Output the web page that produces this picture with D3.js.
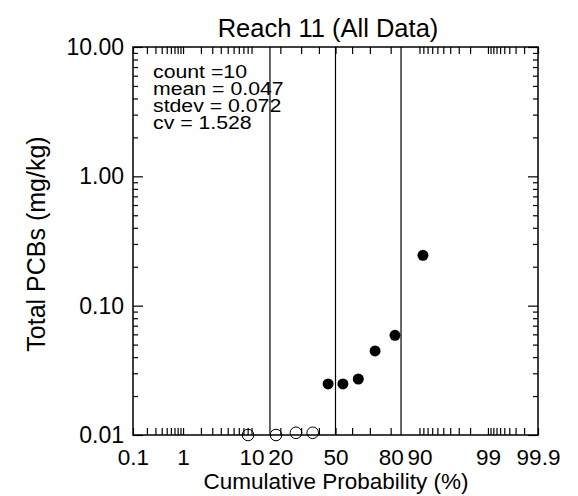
<!DOCTYPE html>
<html><head><meta charset="utf-8">
<script src="https://cdn.jsdelivr.net/npm/d3@7"></script>
<style>
body{margin:0;background:#fff;}
svg{display:block;}
text{font-family:"Liberation Sans",Arial,Helvetica,sans-serif;fill:#000;}
</style></head>
<body>
<svg id="c" width="578" height="496"></svg>
<script>
// ---- data ----
const cumProb = [9.1, 18.2, 27.3, 36.4, 45.5, 54.5, 63.6, 72.7, 81.8, 90.9];
const values  = [0.0100, 0.0100, 0.0104, 0.0104, 0.0248, 0.0248, 0.0271, 0.0447, 0.0590, 0.245];
const detected = [false, false, false, false, true, true, true, true, true, true];
const xTickLabels = [0.1, 1, 10, 20, 50, 80, 90, 99, 99.9];
const xMinorTicks = [0.1,0.2,0.3,0.4,0.5,0.6,0.7,0.8,0.9,1,2,3,4,5,6,7,8,9,10,20,30,40,50,60,70,80,90,91,92,93,94,95,96,97,98,99,99.1,99.2,99.3,99.4,99.5,99.6,99.7,99.8,99.9];
const yMajor = [0.01, 0.1, 1, 10];
const yLabels = ["0.01", "0.10", "1.00", "10.00"];
const sdLines = [-1, 0, 1];
const statsLines = ["count =10", "mean = 0.047", "stdev = 0.072", "cv = 1.528"];
const title = "Reach 11 (All Data)";
const xTitle = "Cumulative Probability (%)";
const yTitle = "Total PCBs (mg/kg)";

// inverse standard normal CDF (Acklam)
function probit(p){
  const a=[-3.969683028665376e+01,2.209460984245205e+02,-2.759285104469687e+02,1.383577518672690e+02,-3.066479806614716e+01,2.506628277459239e+00];
  const b=[-5.447609879822406e+01,1.615858368580409e+02,-1.556989798598866e+02,6.680131188771972e+01,-1.328068155288572e+01];
  const c=[-7.784894002430293e-03,-3.223964580411365e-01,-2.400758277161838e+00,-2.549671010115818e+00,4.374664141464968e+00,2.938163982698783e+00];
  const d=[7.784695709041462e-03,3.224671290700398e-01,2.445134137142996e+00,3.754408661907416e+00];
  const pl=0.02425, ph=1-pl; let q,r;
  if(p<pl){q=Math.sqrt(-2*Math.log(p));return (((((c[0]*q+c[1])*q+c[2])*q+c[3])*q+c[4])*q+c[5])/((((d[0]*q+d[1])*q+d[2])*q+d[3])*q+1);}
  if(p<=ph){q=p-0.5;r=q*q;return (((((a[0]*r+a[1])*r+a[2])*r+a[3])*r+a[4])*r+a[5])*q/(((((b[0]*r+b[1])*r+b[2])*r+b[3])*r+b[4])*r+1);}
  q=Math.sqrt(-2*Math.log(1-p));return -(((((c[0]*q+c[1])*q+c[2])*q+c[3])*q+c[4])*q+c[5])/((((d[0]*q+d[1])*q+d[2])*q+d[3])*q+1);
}

const L=133, R=538, T=47, B=435;
const svg = d3.select("#c");
const x = d3.scaleLinear().domain([probit(0.001), probit(0.999)]).range([L, R]);
const px = p => x(probit(p/100));
const y = d3.scaleLog().domain([0.01, 10]).range([B, T]);
const yMinor = [];
yMajor.slice(0,3).forEach(m => { for(let k=2;k<=9;k++) yMinor.push(m*k); });

// sd lines
svg.append("g").selectAll("line").data(sdLines).join("line")
  .attr("x1", d=>x(d)).attr("x2", d=>x(d)).attr("y1", T).attr("y2", B)
  .attr("stroke","#000").attr("stroke-width",1.2);

function styleAxis(g){ g.select(".domain").remove(); g.selectAll("line").attr("stroke","#000").attr("stroke-width",1.2); }

const zTicks = xMinorTicks.map(p=>probit(p/100));
svg.append("g").attr("transform",`translate(0,${B})`)
  .call(d3.axisBottom(x).tickValues(zTicks).tickSize(-7).tickFormat("")).call(styleAxis);
svg.append("g").attr("transform",`translate(0,${T})`)
  .call(d3.axisTop(x).tickValues(zTicks).tickSize(-7).tickFormat("")).call(styleAxis);
// x labels
const xl = svg.append("g").attr("transform",`translate(0,${B})`)
  .call(d3.axisBottom(x).tickValues(xTickLabels.map(p=>probit(p/100))).tickSize(0).tickPadding(14)
    .tickFormat((d,i)=>String(xTickLabels[i])));
xl.select(".domain").remove();
xl.selectAll("text").attr("font-size",22.5).attr("font-family",null);

// y ticks
[[d3.axisLeft, L],[d3.axisRight, R]].forEach(([ax, pos])=>{
  svg.append("g").attr("transform",`translate(${pos},0)`)
    .call(ax(y).tickValues(yMajor).tickSize(-10).tickFormat("")).call(styleAxis);
  svg.append("g").attr("transform",`translate(${pos},0)`)
    .call(ax(y).tickValues(yMinor).tickSize(-5).tickFormat("")).call(styleAxis);
});
const yl = svg.append("g").attr("transform",`translate(${L},0)`)
  .call(d3.axisLeft(y).tickValues(yMajor).tickSize(0).tickPadding(9).tickFormat((d,i)=>yLabels[i]));
yl.select(".domain").remove();
yl.selectAll("text").attr("font-size",23).attr("font-family",null);

// frame
svg.append("rect").attr("x",L).attr("y",T).attr("width",R-L).attr("height",B-T)
  .attr("fill","none").attr("stroke","#000").attr("stroke-width",1.5);

// points
const pts = cumProb.map((p,i)=>({p, v:values[i], det:detected[i]}));
svg.append("g").selectAll("circle").data(pts).join("circle")
  .attr("cx", d=>px(d.p)).attr("cy", d=>y(d.v)).attr("r", d=>d.det?5.5:5.8)
  .attr("fill", d=>d.det?"#000":"none").attr("stroke","#000").attr("stroke-width", d=>d.det?0:1);

// stats text
svg.append("g").selectAll("text").data(statsLines).join("text")
  .attr("transform",(d,i)=>`translate(153,${78+i*17}) scale(1.15,1)`)
  .attr("font-size",18.5).text(d=>d);

// titles
svg.append("text").attr("x",328).attr("y",37).attr("text-anchor","middle").attr("font-size",25.5).text(title);
svg.append("text").attr("x",336).attr("y",489).attr("text-anchor","middle").attr("font-size",22.5).text(xTitle);
svg.append("text").attr("transform","translate(45,244) rotate(-90)").attr("text-anchor","middle").attr("font-size",25).text(yTitle);
</script>
</body></html>
